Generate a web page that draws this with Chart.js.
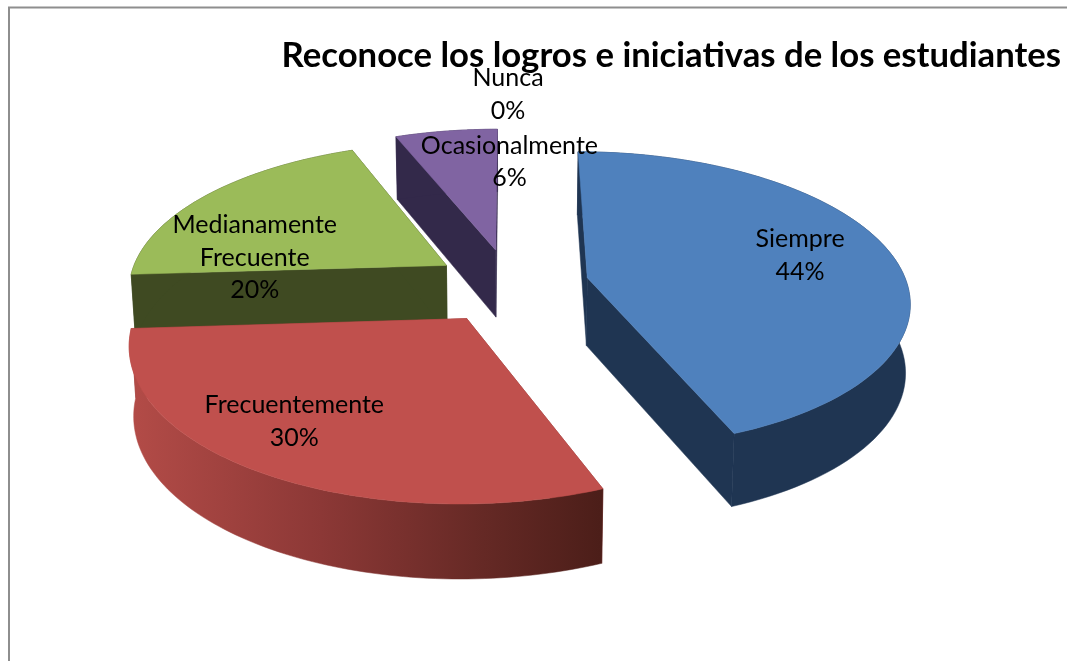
<!DOCTYPE html>
<html><head><meta charset="utf-8">
<style>html,body{margin:0;padding:0;background:#fff}canvas{display:block}</style>
<script src="https://cdn.jsdelivr.net/npm/chart.js@4"></script></head>
<body><canvas id="c" width="1067" height="661"></canvas>
<script>
const categories = ["Siempre","Frecuentemente","Medianamente Frecuente","Ocasionalmente","Nunca"];
const values = [44,30,20,6,0];
const chartTitle = "Reconoce los logros e iniciativas de los estudiantes";
const topColors = ["#4f81bd","#c0504d","#9bbb59","#8064a2","#4bacc6"];
const wallColors = ["#1f3552","#8c3836","#3f4a22","#33294a","#2a6072"];

const view = {cx:508, cy:283, tilt:0.458, persp:0.15, depth:68, taper:0.012, explode:73, radius:323};
const drawOrder = [3,4,2,0,1];
const sliceShift = [[8,1],[-1,6.5],[-1,0],[1,-1],[0,0]];
const sliceScale = [0.99,1,0.985,1,1];
const labelNudge = [[36,-5],[-54,23],[-42,36],[46,-14],[0,-80]];

function project(wx, wy, z, shift){
  const t = wy/view.radius;
  const s = 1/(1 - view.persp*t);
  const sh = shift || [0,0];
  return [view.cx + sh[0] + wx*s*(1 - view.taper*z),
          view.cy + sh[1] + view.radius*view.tilt*t*s + view.depth*z*Math.sqrt(s)];
}
function worldPoint(arc, frac, a, scale){
  const mid = (arc.startAngle+arc.endAngle)/2;
  const r = frac*arc.outerRadius*(scale||1);
  return [view.explode*Math.cos(mid) + r*Math.cos(a), view.explode*Math.sin(mid) + r*Math.sin(a)];
}
function poly(ctx, pts, fill){
  ctx.beginPath();
  pts.forEach((p,i)=> i?ctx.lineTo(p[0],p[1]):ctx.moveTo(p[0],p[1]));
  ctx.closePath();
  ctx.fillStyle = fill; ctx.strokeStyle = fill; ctx.lineWidth = 0.5;
  ctx.fill(); ctx.stroke();
}
const pie3d = {
  id:'pie3d',
  beforeDraw(chart){
    const ctx = chart.ctx;
    ctx.save();
    ctx.fillStyle='#fff'; ctx.fillRect(0,0,chart.width,chart.height);
    ctx.strokeStyle='#8e8e8e'; ctx.lineWidth=2;
    ctx.beginPath(); ctx.moveTo(9,661); ctx.lineTo(9,7.5); ctx.lineTo(1067,7.5); ctx.stroke();
    ctx.restore();
  },
  beforeDatasetsDraw(chart){
    const ctx = chart.ctx, meta = chart.getDatasetMeta(0);
    ctx.save();
    drawOrder.forEach(i=>{
      const arc = meta.data[i];
      if(arc.endAngle - arc.startAngle <= 0) return;
      const n = 90, top = [], bot = [], sh = sliceShift[i], sc = sliceScale[i];
      for(let k=0;k<=n;k++){
        const a = arc.startAngle + (arc.endAngle-arc.startAngle)*k/n;
        const w = worldPoint(arc,1,a,sc);
        top.push(project(w[0],w[1],0,sh)); bot.push(project(w[0],w[1],1,sh));
      }
      const w0 = worldPoint(arc,0,0,sc);
      const a0 = project(w0[0],w0[1],0,sh), a1 = project(w0[0],w0[1],1,sh);
      poly(ctx,[a0,top[0],bot[0],a1],wallColors[i]);
      poly(ctx,[a0,top[n],bot[n],a1],wallColors[i]);
      let outer = wallColors[i];
      if(i===1){
        const g = ctx.createLinearGradient(135,0,600,0);
        g.addColorStop(0,'#b24b47'); g.addColorStop(0.4,'#8c3836'); g.addColorStop(0.75,'#652925'); g.addColorStop(1,'#4c1e19');
        outer = g;
      }
      poly(ctx, top.concat(bot.slice().reverse()), outer);
      poly(ctx,[a0].concat(top),topColors[i]);
    });
    ctx.restore();
    return false;
  },
  afterDraw(chart){
    const ctx = chart.ctx, meta = chart.getDatasetMeta(0);
    ctx.save();
    ctx.font = '25px Lato'; ctx.fillStyle='#000'; ctx.textAlign='center'; ctx.textBaseline='middle';
    const lh = 32.5;
    meta.data.forEach((arc,i)=>{
      const mid = (arc.startAngle+arc.endAngle)/2;
      const w = worldPoint(arc,0.6,mid);
      const p = project(w[0],w[1],0);
      const lines = categories[i].split(' ').concat([values[i]+'%']);
      const x = p[0]+labelNudge[i][0], y = p[1]+labelNudge[i][1];
      lines.forEach((t,k)=> ctx.fillText(t, x, y + (k-(lines.length-1)/2)*lh));
    });
    ctx.restore();
  }
};
new Chart(document.getElementById('c'),{
  type:'pie',
  data:{labels:categories,datasets:[{data:values,backgroundColor:topColors,borderWidth:0,radius:view.radius}]},
  options:{
    responsive:false,animation:false,
    layout:{padding:{top:27,right:6}},
    plugins:{
      legend:{display:false},tooltip:{enabled:false},
      title:{display:true,text:chartTitle,align:'end',color:'#000',font:{family:'Lato',size:34.7,weight:'bold'},padding:{top:8,bottom:8}}
    }
  },
  plugins:[pie3d]
});
</script></body></html>
